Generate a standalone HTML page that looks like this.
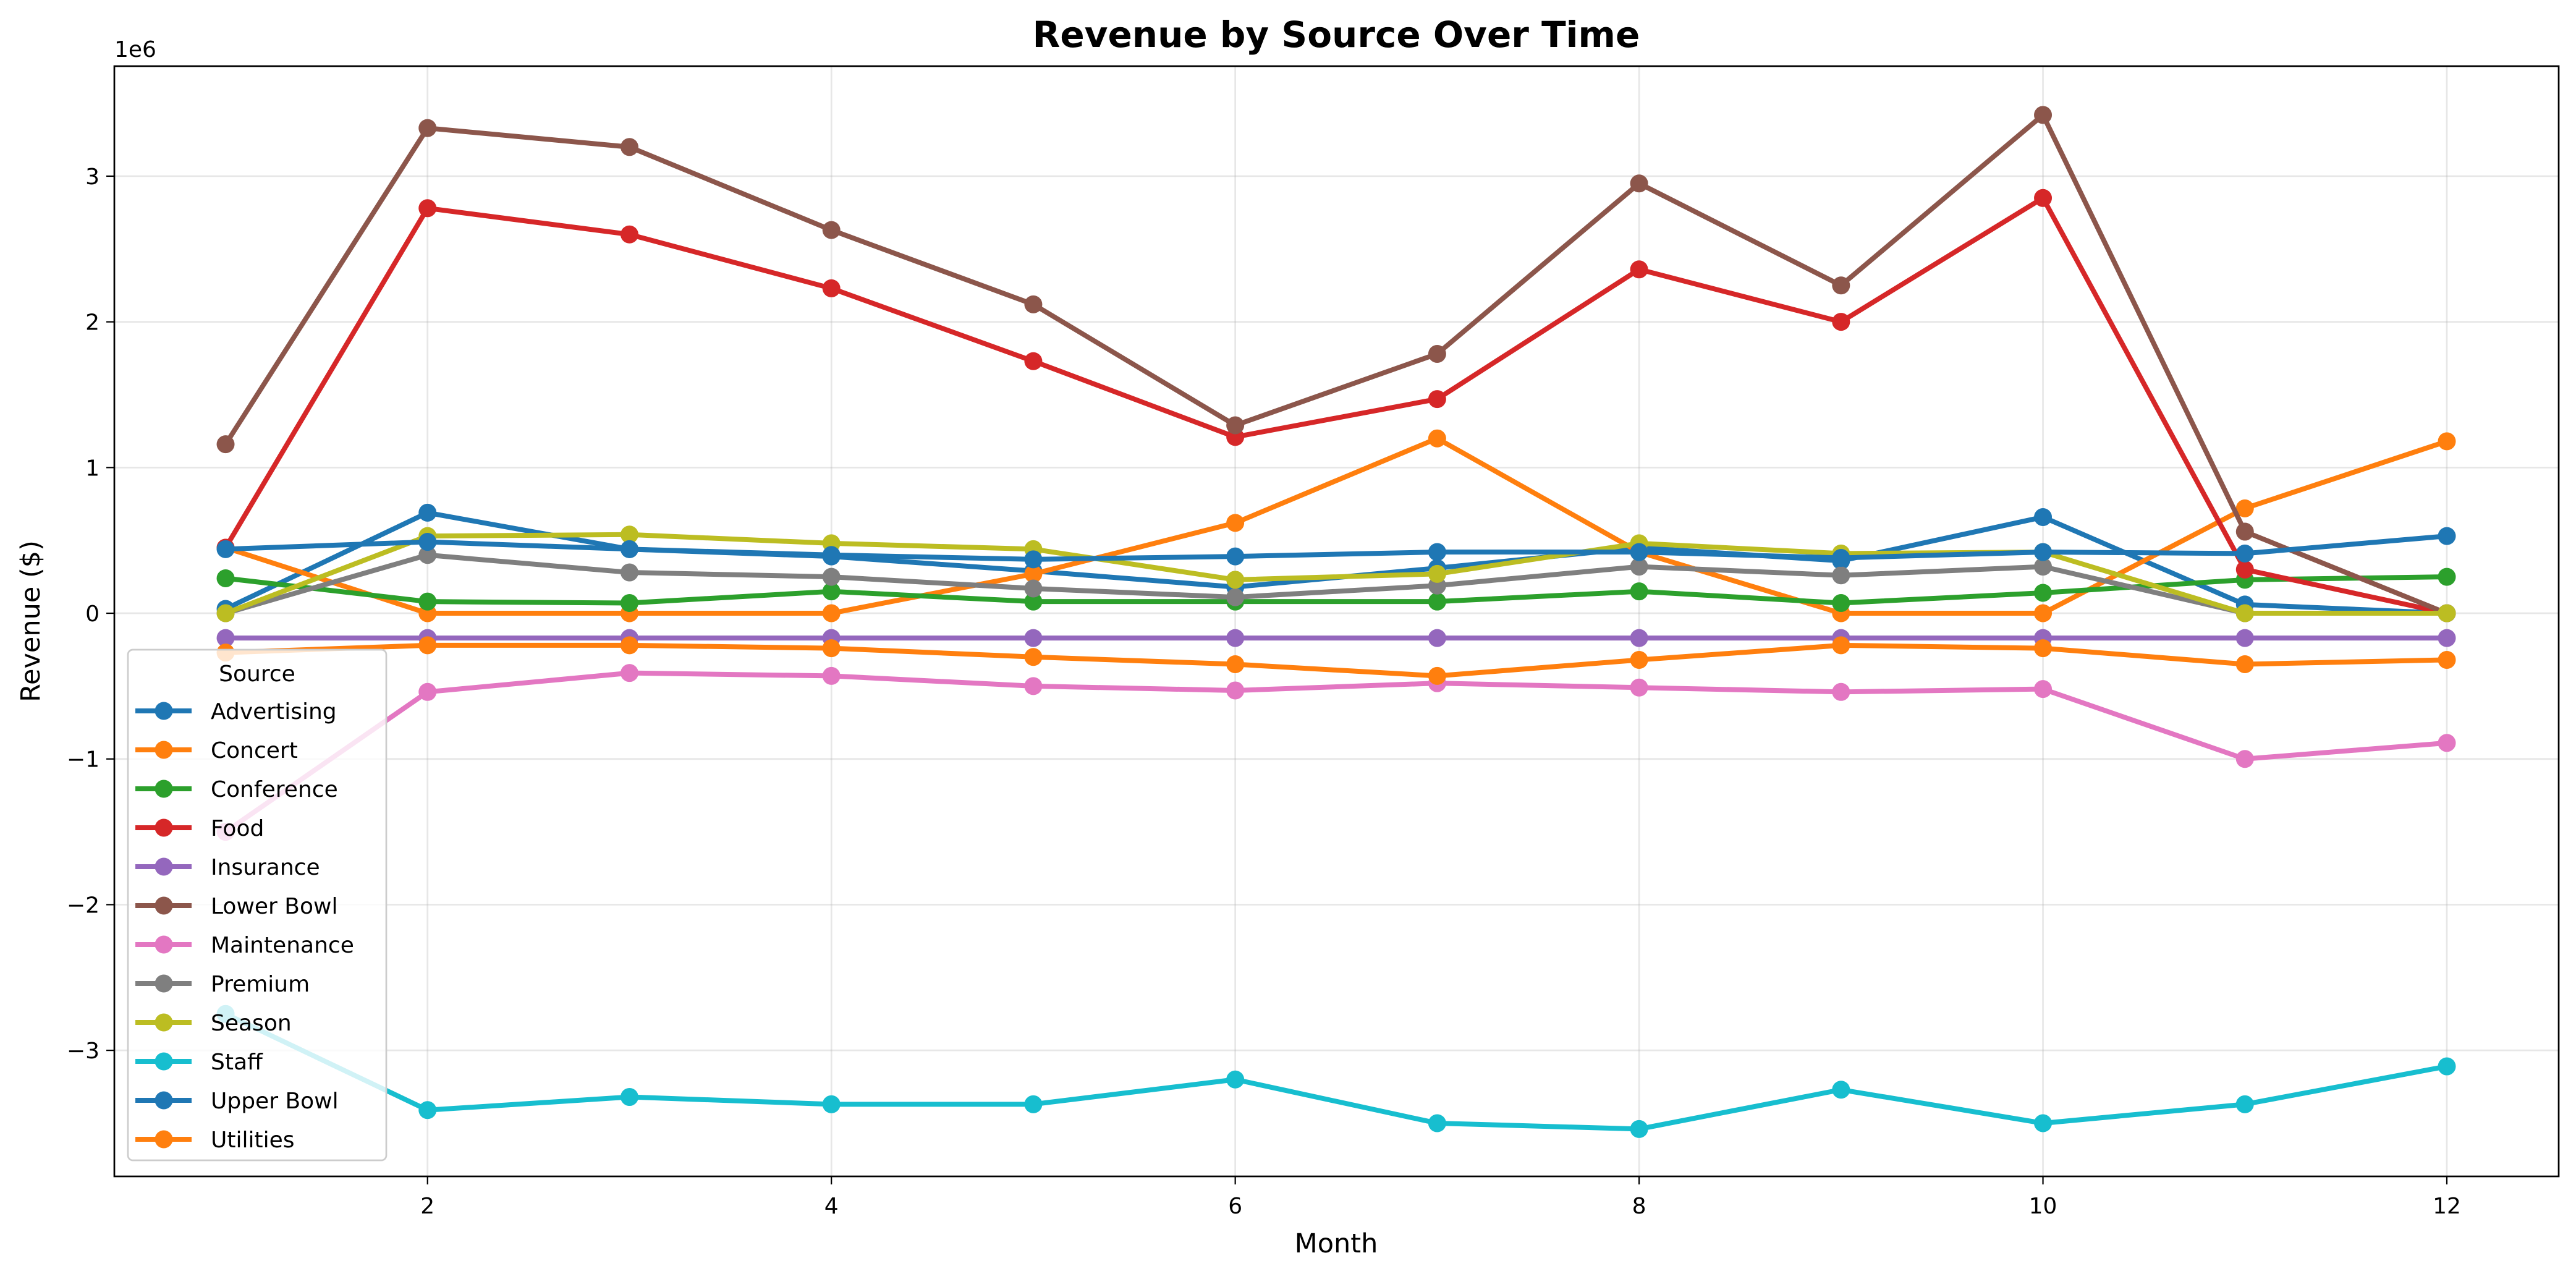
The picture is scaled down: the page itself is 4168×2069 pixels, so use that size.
<!DOCTYPE html>
<html><head><meta charset="utf-8"><style>
html,body{margin:0;padding:0;background:#fff;}
svg{display:block;font-family:"DejaVu Sans","Liberation Sans",sans-serif;}
</style></head><body>
<svg id="chart" width="4168" height="2069" viewBox="0 0 4168 2069" xmlns="http://www.w3.org/2000/svg">
<rect width="4168" height="2069" fill="#fff"/>
<g id="grid"></g>
<g id="series"></g>
<rect x="185" y="107" width="3955" height="1796" fill="none" stroke="#000" stroke-width="2.7"/>
<g id="ticks"></g>
<text x="2162" y="76" text-anchor="middle" font-size="58" font-weight="bold">Revenue by Source Over Time</text>
<text x="2162" y="2026" text-anchor="middle" font-size="43">Month</text>
<text transform="translate(64,1005) rotate(-90)" text-anchor="middle" font-size="43">Revenue ($)</text>
<text x="185" y="92" font-size="36">1e6</text>
<g id="legend"></g>
</svg>
<script>
const months = [1,2,3,4,5,6,7,8,9,10,11,12];
const seriesNames = ["Advertising","Concert","Conference","Food","Insurance","Lower Bowl","Maintenance","Premium","Season","Staff","Upper Bowl","Utilities"];
const seriesColors = ["#1f77b4","#ff7f0e","#2ca02c","#d62728","#9467bd","#8c564b","#e377c2","#7f7f7f","#bcbd22","#17becf","#1f77b4","#ff7f0e"];
const advertising = [0.03,0.69,0.44,0.39,0.29,0.18,0.31,0.45,0.36,0.66,0.06,0.0];
const concert = [0.45,0.0,0.0,0.0,0.27,0.62,1.2,0.42,0.0,0.0,0.72,1.18];
const conference = [0.24,0.08,0.07,0.15,0.08,0.08,0.08,0.15,0.07,0.14,0.23,0.25];
const food = [0.45,2.78,2.6,2.23,1.73,1.21,1.47,2.36,2.0,2.85,0.3,0.0];
const insurance = [-0.17,-0.17,-0.17,-0.17,-0.17,-0.17,-0.17,-0.17,-0.17,-0.17,-0.17,-0.17];
const lowerBowl = [1.16,3.33,3.2,2.63,2.12,1.29,1.78,2.95,2.25,3.42,0.56,0.0];
const maintenance = [-1.5,-0.54,-0.41,-0.43,-0.5,-0.53,-0.48,-0.51,-0.54,-0.52,-1.0,-0.89];
const premium = [0.0,0.4,0.28,0.25,0.17,0.11,0.19,0.32,0.26,0.32,0.0,0.0];
const season = [0.0,0.53,0.54,0.48,0.44,0.23,0.27,0.48,0.41,0.42,0.0,0.0];
const staff = [-2.75,-3.41,-3.32,-3.37,-3.37,-3.2,-3.5,-3.54,-3.27,-3.5,-3.37,-3.11];
const upperBowl = [0.44,0.49,0.44,0.4,0.37,0.39,0.42,0.42,0.38,0.42,0.41,0.53];
const utilities = [-0.27,-0.22,-0.22,-0.24,-0.3,-0.35,-0.43,-0.32,-0.22,-0.24,-0.35,-0.32];
const xTicks = [2,4,6,8,10,12];
const yTicks = [-3,-2,-1,0,1,2,3];
const yTickLabels = ["\u22123","\u22122","\u22121","0","1","2","3"];

const allSeries = [advertising,concert,conference,food,insurance,lowerBowl,maintenance,premium,season,staff,upperBowl,utilities];
const NS="http://www.w3.org/2000/svg";
const L=185,R=4140,T=107,B=1903;
const xMin=0.449,xMax=12.554,yMin=-3.865,yMax=3.755;
const MR=14.5, LW=8;
function sx(v){return L+(v-xMin)/(xMax-xMin)*(R-L);}
function sy(v){return B-(v-yMin)/(yMax-yMin)*(B-T);}
function mk(tag,attrs,parent){const e=document.createElementNS(NS,tag);for(const k in attrs)e.setAttribute(k,attrs[k]);parent.appendChild(e);return e;}
const grid=document.getElementById('grid'),ticks=document.getElementById('ticks'),sg=document.getElementById('series'),lg=document.getElementById('legend');
xTicks.forEach(t=>{
  const x=sx(t);
  const g=mk('line',{x1:x,x2:x,y1:T,y2:B,stroke:'#b0b0b0','stroke-opacity':0.3,'stroke-width':2.7},grid);
  
  
  const tk=mk('line',{x1:x,x2:x,y1:B,y2:B+13,stroke:'#000','stroke-width':2.2},ticks);
  
  
  const tx=mk('text',{x:x,y:B+60,'text-anchor':'middle','font-size':36},ticks);
  tx.textContent=t;
  
  
});
yTicks.forEach((t,i)=>{
  const y=sy(t);
  const g=mk('line',{x1:L,x2:R,y1:y,y2:y,stroke:'#b0b0b0','stroke-opacity':0.3,'stroke-width':2.7},grid);
  
  
  const tk=mk('line',{x1:L-13,x2:L,y1:y,y2:y,stroke:'#000','stroke-width':2.2},ticks);
  
  
  const tx=mk('text',{x:L-24,y:y+13,'text-anchor':'end','font-size':36},ticks);
  tx.textContent=yTickLabels[i];
  
  
});
allSeries.forEach((vals,si)=>{
  const c=seriesColors[si];
  const g=mk('g',{},sg);
  
  
  const pts=vals.map((v,i)=>sx(months[i])+','+sy(v)).join(' ');
  const pl=mk('polyline',{points:pts,fill:'none',stroke:c,'stroke-width':LW,'stroke-linejoin':'round'},g);
  
  
  vals.forEach((v,i)=>{
    const p=mk('circle',{cx:sx(months[i]),cy:sy(v),r:MR,fill:c},g);
    
    
  });
});
const box=mk('rect',{x:207,y:1051,width:418,height:826,rx:8,fill:'#fff','fill-opacity':0.8,stroke:'#cccccc','stroke-width':2.7},lg);


const lt=mk('text',{x:416,y:1102,'text-anchor':'middle','font-size':36},lg);
lt.textContent='Source';


seriesNames.forEach((n,i)=>{
  const y=1150+i*63;
  const g=mk('g',{},lg);
  
  
  mk('line',{x1:219,x2:310,y1:y,y2:y,stroke:seriesColors[i],'stroke-width':LW},g);
  mk('circle',{cx:265,cy:y,r:MR,fill:seriesColors[i]},g);
  const t=mk('text',{x:341,y:y+13,'font-size':36},g);
  t.textContent=n;
});
</script>
</body></html>
